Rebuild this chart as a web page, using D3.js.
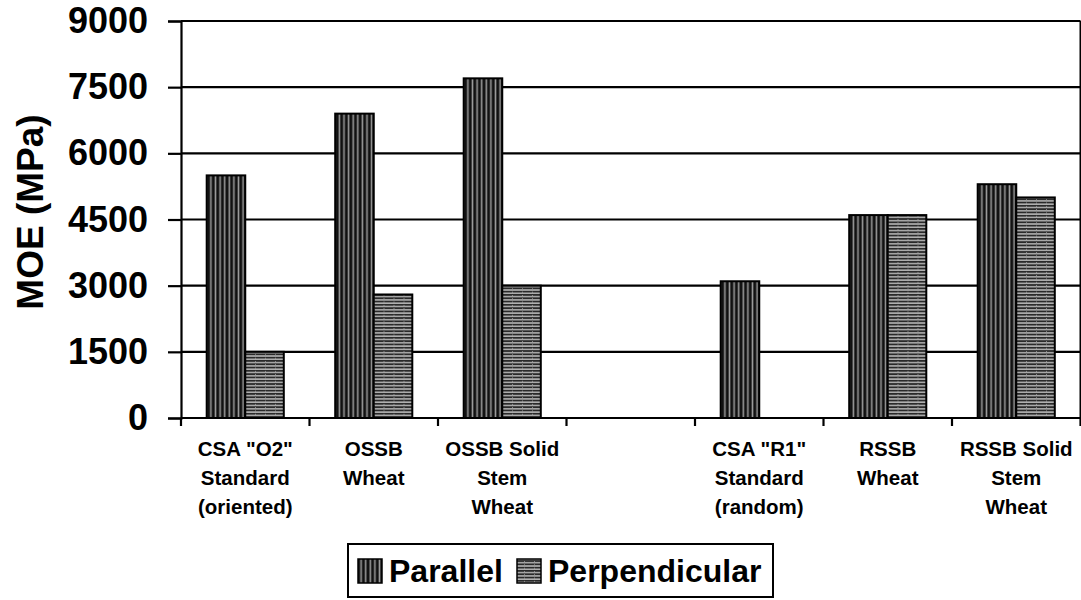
<!DOCTYPE html>
<html>
<head>
<meta charset="utf-8">
<script src="https://cdn.jsdelivr.net/npm/d3@7"></script>
<style>
  body { margin: 0; background: #fff; }
  svg { display: block; font-family: "Liberation Sans", Arial, sans-serif; font-weight: bold; }
</style>
</head>
<body>
<svg id="chart" width="1081" height="600"></svg>
<script>
// data
const categories = [
  ["CSA \"O2\"", "Standard", "(oriented)"],
  ["OSSB", "Wheat"],
  ["OSSB Solid", "Stem", "Wheat"],
  [],
  ["CSA \"R1\"", "Standard", "(random)"],
  ["RSSB", "Wheat"],
  ["RSSB Solid", "Stem", "Wheat"]
];
const seriesNames = ["Parallel", "Perpendicular"];
const parallel = [5500, 6900, 7700, null, 3100, 4600, 5300];
const perpendicular = [1500, 2800, 3000, null, null, 4600, 5000];
const yTicks = [0, 1500, 3000, 4500, 6000, 7500, 9000];

const margin = { top: 21, right: 0.5, bottom: 182, left: 181 };
const width = 1081 - margin.left - margin.right;
const height = 600 - margin.top - margin.bottom;

const svg = d3.select("#chart");

// patterns for the two series
const defs = svg.append("defs");
const pPar = defs.append("pattern")
    .attr("id", "patPar")
    .attr("patternUnits", "userSpaceOnUse")
    .attr("width", 4.6).attr("height", 10);
pPar.append("rect").attr("width", 4.6).attr("height", 10).attr("fill", "#111");
pPar.append("rect").attr("x", 1.5).attr("width", 1.6).attr("height", 10).attr("fill", "#9a9a9a");

const pPerp = defs.append("pattern")
    .attr("id", "patPerp")
    .attr("patternUnits", "userSpaceOnUse")
    .attr("width", 10).attr("height", 3.3);
pPerp.append("rect").attr("width", 10).attr("height", 3.3).attr("fill", "#2a2a2a");
pPerp.append("rect").attr("y", 1).attr("width", 10).attr("height", 1.4).attr("fill", "#bdbdbd");
pPerp.append("rect").attr("x", 4).attr("y", 0).attr("width", 1).attr("height", 1).attr("fill", "#888");
const fills = ["url(#patPar)", "url(#patPerp)"];

const g = svg.append("g")
    .attr("transform", `translate(${margin.left},${margin.top})`);

// scales
const x0 = d3.scaleBand()
    .domain(d3.range(categories.length))
    .range([0, width])
    .padding(0);

const x1 = d3.scaleBand()
    .domain(seriesNames)
    .range([x0.bandwidth() * 0.2, x0.bandwidth() * 0.8])
    .padding(0);

const y = d3.scaleLinear()
    .domain([0, 9000])
    .range([height, 0]);

// gridlines
g.selectAll("line.grid")
    .data(yTicks.slice(1))
    .enter()
    .append("line")
    .attr("class", "grid")
    .attr("x1", 0).attr("x2", width)
    .attr("y1", d => y(d)).attr("y2", d => y(d))
    .attr("stroke", "#000")
    .attr("stroke-width", 2.2);

// right border of plot area
g.append("line")
    .attr("x1", width).attr("x2", width)
    .attr("y1", 0).attr("y2", height)
    .attr("stroke", "#000")
    .attr("stroke-width", 2);

// bars
const rows = categories.map((c, i) => ({ i, vals: [parallel[i], perpendicular[i]] }));
const groups = g.selectAll("g.cat")
    .data(rows)
    .enter()
    .append("g")
    .attr("class", "cat")
    .attr("transform", d => `translate(${x0(d.i)},0)`);

groups.selectAll("rect")
    .data(d => d.vals.map((v, k) => ({ name: seriesNames[k], k, v })).filter(e => e.v != null))
    .enter()
    .append("rect")
    .attr("x", d => x1(d.name))
    .attr("width", x1.bandwidth())
    .attr("y", d => y(d.v))
    .attr("height", d => height - y(d.v))
    .attr("fill", d => fills[d.k])
    .attr("stroke", "#000")
    .attr("stroke-width", 2);

// y axis
const yAxis = g.append("g")
    .call(d3.axisLeft(y).tickValues(yTicks).tickSize(13).tickPadding(20).tickFormat(d3.format("d")));
yAxis.select(".domain").attr("stroke-width", 2.2);
yAxis.selectAll(".tick line").attr("stroke-width", 2.2);
yAxis.selectAll(".tick text")
    .attr("font-size", 36)
    .attr("font-weight", "bold")
    .attr("font-family", "Liberation Sans, Arial, sans-serif")
    .attr("fill", "#000");

// x axis with ticks at band boundaries
const xAxis = g.append("g")
    .attr("transform", `translate(0,${height})`);
xAxis.append("line")
    .attr("x1", 0).attr("x2", width)
    .attr("stroke", "#000")
    .attr("stroke-width", 2.2);
xAxis.selectAll("line.xtick")
    .data(d3.range(categories.length + 1))
    .enter()
    .append("line")
    .attr("class", "xtick")
    .attr("x1", d => d * x0.step()).attr("x2", d => d * x0.step())
    .attr("y1", 0).attr("y2", 8)
    .attr("stroke", "#000")
    .attr("stroke-width", 2.2);

const labels = xAxis.selectAll("text.xlab")
    .data(categories)
    .enter()
    .append("text")
    .attr("class", "xlab")
    .attr("text-anchor", "middle")
    .attr("font-size", 20.5)
    .attr("transform", (d, i) => `translate(${x0(i) + x0.bandwidth() / 2},0)`);
labels.selectAll("tspan")
    .data(d => d)
    .enter()
    .append("tspan")
    .attr("x", 0)
    .attr("y", (d, j) => 38 + j * 29)
    .text(d => d);

// y axis title
svg.append("text")
    .attr("transform", "rotate(-90)")
    .attr("x", -212)
    .attr("y", 43)
    .attr("text-anchor", "middle")
    .attr("font-size", 37)
    .text("MOE (MPa)");

// legend
const legend = svg.append("g");
legend.append("rect")
    .attr("x", 348).attr("y", 544)
    .attr("width", 425).attr("height", 53)
    .attr("fill", "#fff")
    .attr("stroke", "#000")
    .attr("stroke-width", 2);

const legendX = [358, 517];
seriesNames.forEach((name, i) => {
    legend.append("rect")
        .attr("x", legendX[i]).attr("y", 559)
        .attr("width", 24).attr("height", 24)
        .attr("fill", fills[i])
        .attr("stroke", "#000")
        .attr("stroke-width", 1.5);
    legend.append("text")
        .attr("x", legendX[i] + 31)
        .attr("y", 582)
        .attr("font-size", 32)
        .text(name);
});
</script>
</body>
</html>
